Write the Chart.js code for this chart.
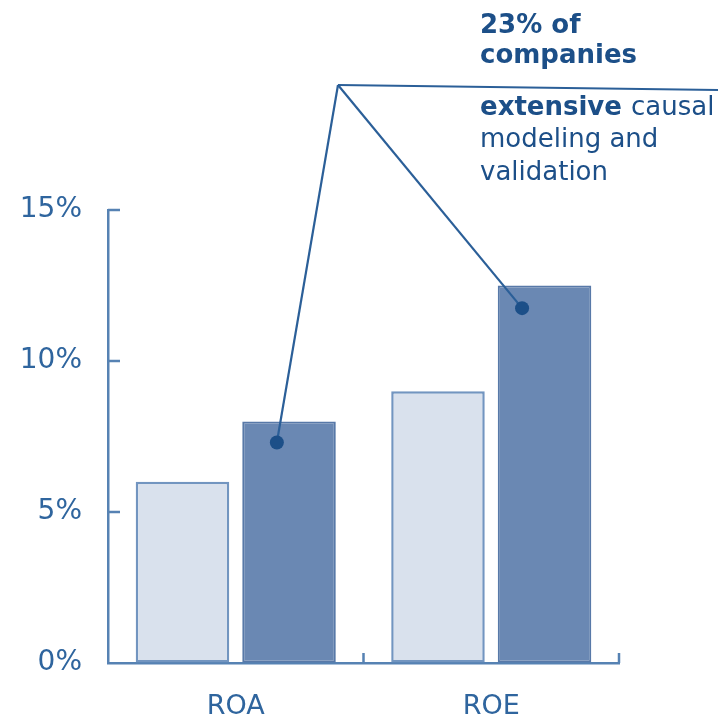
<!DOCTYPE html>
<html>
<head>
<meta charset="utf-8">
<script src="https://cdn.jsdelivr.net/npm/chart.js@4/dist/chart.umd.min.js"></script>
<style>
    html, body { margin: 0; padding: 0; background: #ffffff; }
    canvas { display: block; }
</style>
</head>
<body>
<canvas id="chartCanvas" width="718" height="720"></canvas>
<script>
// Chart data
const categories = ['ROA', 'ROE'];
const allCompanies = [6, 9];
const extensiveModeling = [8, 12.5];
const yTickValues = [0, 5, 10, 15];
// Where the leader-line dots sit on the dark bars (in %)
const markerValues = [7.3, 11.75];

const axisColor = '#5682b3';
const labelColor = '#2f659e';
const noteColor = '#1c4f88';

// Draws inward tick marks, leader lines, dots and the note text
const notePlugin = {
    id: 'notePlugin',
    afterDraw(chart) {
        const ctx = chart.ctx;
        const { x, y } = chart.scales;
        const area = chart.chartArea;

        ctx.save();
        ctx.strokeStyle = axisColor;
        ctx.lineWidth = 2.5;

        // y ticks pointing into the plot
        yTickValues.forEach(v => {
            if (v === 0) return;
            const py = y.getPixelForValue(v);
            ctx.beginPath();
            ctx.moveTo(area.left, py);
            ctx.lineTo(area.left + 12, py);
            ctx.stroke();
        });

        // x ticks at category boundaries
        for (let i = 1; i <= categories.length; i++) {
            const px = i < categories.length
                ? (x.getPixelForValue(i - 1) + x.getPixelForValue(i)) / 2
                : area.right;
            ctx.beginPath();
            ctx.moveTo(px, area.bottom);
            ctx.lineTo(px, area.bottom - 10);
            ctx.stroke();
        }

        // leader lines and dots
        const meta = chart.getDatasetMeta(1);
        const apex = { x: 338, y: 85 };
        const dotShift = [-0.13, -0.24];
        ctx.strokeStyle = '#2b5f98';
        ctx.lineWidth = 2.2;
        ctx.beginPath();
        ctx.moveTo(apex.x, apex.y);
        ctx.lineTo(718, 90);
        ctx.stroke();
        meta.data.forEach((bar, i) => {
            const dx = bar.x + dotShift[i] * bar.width;
            const dy = y.getPixelForValue(markerValues[i]);
            ctx.beginPath();
            ctx.moveTo(apex.x, apex.y);
            ctx.lineTo(dx, dy);
            ctx.stroke();
            ctx.fillStyle = noteColor;
            ctx.beginPath();
            ctx.arc(dx, dy, 7, 0, Math.PI * 2);
            ctx.fill();
        });

        // note text
        const left = 480;
        ctx.fillStyle = noteColor;
        ctx.textBaseline = 'alphabetic';
        ctx.textAlign = 'left';
        ctx.font = 'bold 26px "DejaVu Sans"';
        ctx.fillText('23% of', left, 33);
        ctx.fillText('companies', left, 63);
        ctx.fillText('extensive', left, 115);
        const w = ctx.measureText('extensive ').width;
        ctx.font = '26px "DejaVu Sans"';
        ctx.fillText('causal', left + w, 115);
        ctx.fillText('modeling and', left, 147);
        ctx.fillText('validation', left, 180);
        ctx.restore();
    }
};

const chartCanvas = document.getElementById('chartCanvas');

new Chart(chartCanvas, {
    type: 'bar',
    data: {
        labels: categories,
        datasets: [
            {
                label: 'All companies',
                data: allCompanies,
                backgroundColor: '#d9e1ed',
                borderColor: '#7295c0',
                borderWidth: 2.5,
                borderSkipped: false
            },
            {
                label: 'Extensive causal modeling and validation',
                data: extensiveModeling,
                backgroundColor: '#6a88b3',
                borderColor: '#5879a8',
                borderWidth: 2,
                borderSkipped: false
            }
        ]
    },
    options: {
        responsive: false,
        animation: false,
        categoryPercentage: 0.834,
        barPercentage: 0.878,
        layout: {
            padding: { top: 210, right: 99, bottom: 0, left: 0 }
        },
        plugins: {
            legend: { display: false },
            tooltip: { enabled: false }
        },
        scales: {
            x: {
                grid: { display: true, drawOnChartArea: false, drawTicks: false },
                border: { display: true, color: axisColor, width: 2.5 },
                ticks: {
                    color: labelColor,
                    padding: 28,
                    font: { family: '"DejaVu Sans"', size: 27 }
                },
                afterFit(scale) { scale.height = 57; }
            },
            y: {
                min: 0,
                max: 15,
                grid: { display: true, drawOnChartArea: false, drawTicks: false },
                border: { display: true, color: axisColor, width: 2.5 },
                afterBuildTicks(scale) {
                    scale.ticks = yTickValues.map(v => ({ value: v }));
                },
                ticks: {
                    color: labelColor,
                    padding: 26,
                    font: { family: '"DejaVu Sans"', size: 28 },
                    callback: v => v + '%'
                },
                afterFit(scale) { scale.width = 108; }
            }
        }
    },
    plugins: [notePlugin]
});
</script>
</body>
</html>
